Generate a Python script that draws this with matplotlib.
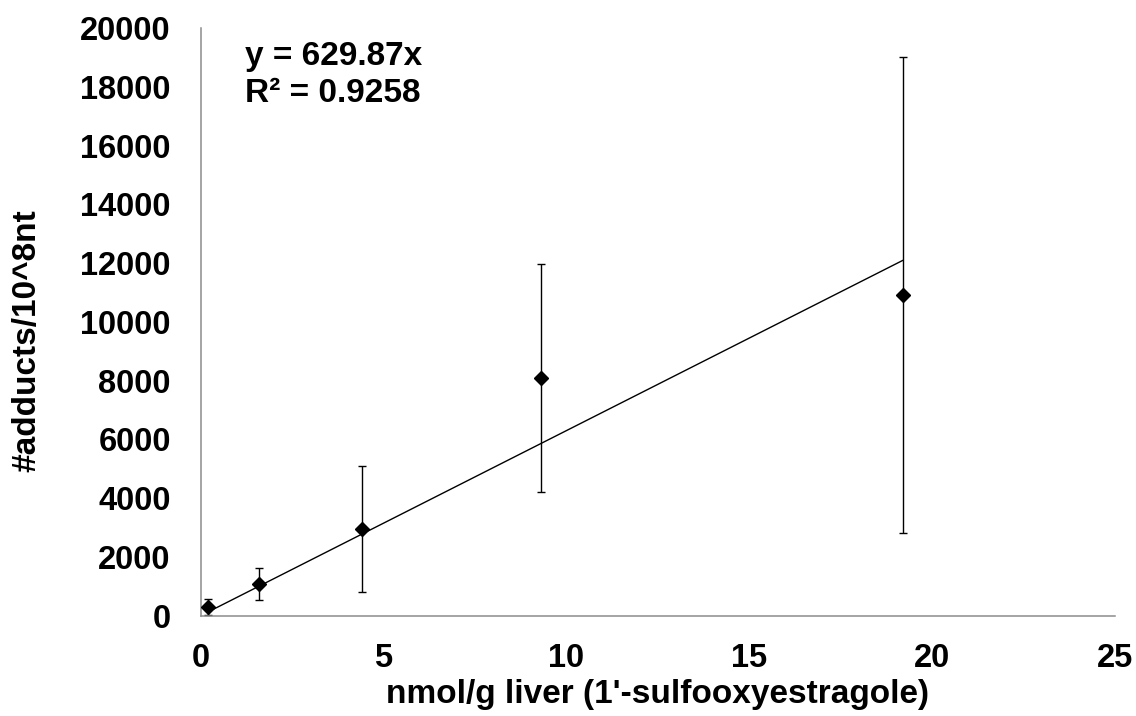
import matplotlib
matplotlib.use("Agg")
import matplotlib.pyplot as plt
import numpy as np

plt.rcParams['font.family'] = ['Liberation Sans', 'DejaVu Sans']
plt.rcParams['font.weight'] = 'bold'

# Dose (nmol/g liver) vs adduct levels with standard deviations
dose = [0.20, 1.60, 4.41, 9.30, 19.19]
adducts = [306, 1088, 2960, 8095, 10918]
sd = [272, 545, 2140, 3880, 8095]

slope = 629.87
r_squared = 0.9258

x_ticks = [0, 5, 10, 15, 20, 25]
y_ticks = list(range(0, 20001, 2000))

W, H = 1136, 716
fig = plt.figure(figsize=(W / 100, H / 100), dpi=100)
ax = fig.add_axes([200.7 / W, 1 - 615.7 / H, (1115 - 200.7) / W, (615.7 - 28) / H])

ax.errorbar(dose, adducts, yerr=sd, fmt='none', ecolor='black',
            elinewidth=1.0, capsize=2.7, capthick=1.0, zorder=2)
ax.plot(dose, adducts, linestyle='none', marker='D', markersize=7,
        color='black', zorder=3)

# Linear trend through the origin, spanning the measured dose range
xt = np.array([min(dose), max(dose)])
ax.plot(xt, slope * xt, color='black', linewidth=1.0, zorder=2)

ax.set_xlim(0, 25)
ax.set_ylim(0, 20000)
ax.set_xticks(x_ticks)
ax.set_yticks(y_ticks)
ax.tick_params(axis='both', length=0, labelsize=23.5)
ax.tick_params(axis='y', pad=21.5)
ax.tick_params(axis='x', pad=19.5)
for lbl in ax.get_xticklabels() + ax.get_yticklabels():
    lbl.set_fontweight('bold')

for side in ['top', 'right']:
    ax.spines[side].set_visible(False)
for side in ['left', 'bottom']:
    ax.spines[side].set_color('#8c8c8c')
    ax.spines[side].set_linewidth(1.1)

fig.text(657 / W, 1 - 703 / H, "nmol/g liver (1'-sulfooxyestragole)",
         fontsize=24, fontweight='bold', ha='center', va='baseline')
fig.text(27 / W, 1 - 341 / H, "#adducts/10^8nt", fontsize=24,
         fontweight='bold', rotation=90, ha='center', va='center')

fig.text(245 / W, 1 - 65 / H, f"y = {slope}x", fontsize=24,
         fontweight='bold', ha='left', va='baseline')
fig.text(245 / W, 1 - 102 / H, f"R\u00b2 = {r_squared}", fontsize=24,
         fontweight='bold', ha='left', va='baseline')

fig.savefig("out.png", dpi=100)
